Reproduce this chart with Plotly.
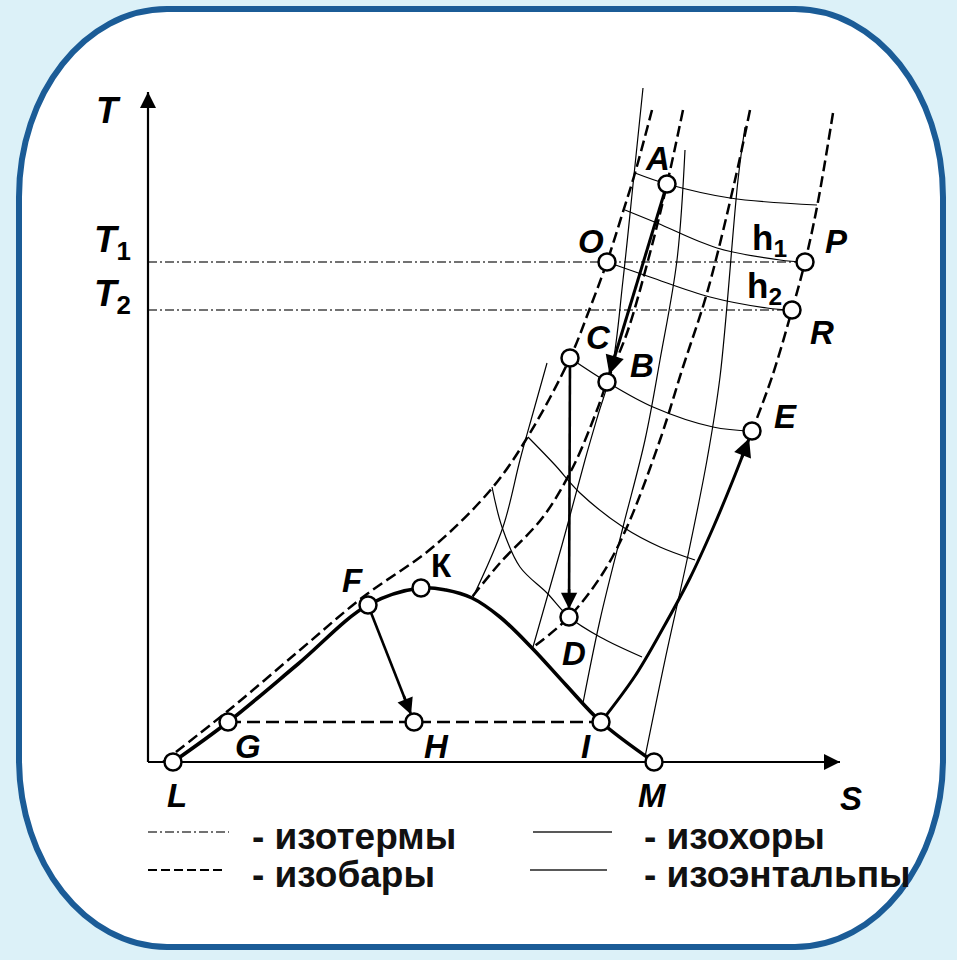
import plotly.graph_objects as go

W, H = 957, 960

# ---------------- data: T–S diagram (S and T in drawing units) ----------------
POINT_LABELS = ["A", "O", "P", "R", "C", "B", "E", "К", "F", "D", "G", "H", "I", "L", "M"]
POINT_S = [519, 459, 657, 644, 422, 459, 604, 273, 220, 421, 80, 266, 453, 25, 506]
POINT_T = [578, 500, 500, 452, 404, 380, 331, 174, 157, 145, 40, 40, 40, 0, 0]

T1 = 500
T2 = 452
S_MAX = 692
T_MAX = 670

# saturation (boundary) curve L-G-F-K-I-M
SAT_S = [25, 80, 150, 220, 273, 298, 324, 352, 384, 418, 453, 506]
SAT_T = [0, 40, 98, 157, 174, 172, 164, 145, 114, 77, 40, 0]

# isobars
ISOBAR1_S = [15, 81, 152, 215, 285, 345, 382, 422, 442, 459, 474, 487, 504]
ISOBAR1_T = [0, 52, 112, 165, 215, 275, 329, 404, 454, 500, 547, 589, 652]
ISOBAR2_S = [535, 519, 502, 479, 459, 449, 425, 395, 352, 324]
ISOBAR2_T = [652, 578, 509, 429, 380, 352, 295, 245, 199, 165]
ISOBAR3_S = [602, 587, 559, 535, 512, 479, 455, 421, 384]
ISOBAR3_T = [652, 582, 469, 395, 322, 235, 189, 145, 114]
ISOBAR4_S = [685, 669, 657, 644, 624, 604]
ISOBAR4_T = [649, 555, 500, 452, 385, 331]

# isochores
ISOCHORE_A_S = [399, 385, 372, 355, 325]
ISOCHORE_A_T = [399, 349, 302, 235, 165]
ISOCHORE_B_S = [495, 486, 475, 464, 450, 437, 414, 385]
ISOCHORE_B_T = [674, 587, 482, 394, 347, 302, 217, 115]
ISOCHORE_C_S = [537, 529, 512, 497, 475, 452, 435]
ISOCHORE_C_T = [612, 502, 402, 322, 235, 142, 59]
ISOCHORE_D_S = [597, 590, 572, 559, 539, 517, 497]
ISOCHORE_D_T = [635, 582, 385, 302, 202, 102, 5]

# isenthalps
ENTH_A_S = [487, 519, 582, 669]
ENTH_A_T = [589, 578, 564, 557]
ENTH_1_S = [477, 509, 569, 632, 657]
ENTH_1_T = [552, 539, 514, 502, 500]
ENTH_2_S = [459, 502, 562, 619, 644]
ENTH_2_T = [500, 485, 465, 454, 452]
ENTH_C_S = [422, 459, 505, 565, 604]
ENTH_C_T = [404, 380, 355, 335, 331]
ENTH_X_S = [380, 407, 432, 475, 512, 547]
ENTH_X_T = [325, 297, 269, 235, 215, 202]
ENTH_Y_S = [344, 354, 372, 399, 421, 452, 494]
ENTH_Y_T = [275, 235, 195, 169, 145, 125, 105]

# process I -> E
PROC_IE_S = [453, 487, 514, 542, 565, 585, 604]
PROC_IE_T = [40, 86, 132, 184, 234, 282, 331]

pt = {n: (s, t) for n, s, t in zip(POINT_LABELS, POINT_S, POINT_T)}

# ---------------- styling ----------------
INK = "black"
THIN = 1.2
DASH_P = "11px,5px"
DASHDOT = "9px,3px,2px,3px"
FONT = "Liberation Sans, Arial, sans-serif"
LEG_FONT = "Liberation Sans, Arial, sans-serif"

fig = go.Figure()


def curve(s, t, width, dash="solid", color=INK, shape="spline"):
    fig.add_trace(go.Scatter(
        x=s, y=t, mode="lines", hoverinfo="skip", showlegend=False,
        line=dict(color=color, width=width, dash=dash, shape=shape, smoothing=1.0),
    ))


def head(s0, t0, s1, t1, width, size, standoff=0.0, back=30.0):
    ds, dt = s1 - s0, t1 - t0
    n = (ds * ds + dt * dt) ** 0.5
    fig.add_annotation(
        x=s1, y=t1, ax=s1 - ds / n * back, ay=t1 - dt / n * back,
        xref="x", yref="y", axref="x", ayref="y", text=" ",
        font=dict(size=1), showarrow=True, arrowhead=2, arrowsize=size,
        arrowwidth=width, arrowcolor=INK, standoff=standoff,
    )


# isotherms T1, T2
curve([0, pt["P"][0]], [T1, T1], 1.3, DASHDOT, "#444", "linear")
curve([0, pt["R"][0]], [T2, T2], 1.3, DASHDOT, "#444", "linear")

# isochores
for s, t in [(ISOCHORE_A_S, ISOCHORE_A_T), (ISOCHORE_B_S, ISOCHORE_B_T),
             (ISOCHORE_C_S, ISOCHORE_C_T), (ISOCHORE_D_S, ISOCHORE_D_T)]:
    curve(s, t, THIN)

# isenthalps
for s, t in [(ENTH_A_S, ENTH_A_T), (ENTH_1_S, ENTH_1_T), (ENTH_2_S, ENTH_2_T),
             (ENTH_C_S, ENTH_C_T), (ENTH_X_S, ENTH_X_T), (ENTH_Y_S, ENTH_Y_T)]:
    curve(s, t, THIN)

# isobars
for s, t in [(ISOBAR1_S, ISOBAR1_T), (ISOBAR2_S, ISOBAR2_T),
             (ISOBAR3_S, ISOBAR3_T), (ISOBAR4_S, ISOBAR4_T)]:
    curve(s, t, 2.5, DASH_P)
curve([pt["G"][0], pt["I"][0]], [pt["G"][1], pt["I"][1]], 2.4, "13px,6px", INK, "linear")

# axes
curve([0, 0], [0, T_MAX], 2.2, shape="linear")
curve([0, S_MAX], [0, 0], 2.0, shape="linear")
head(0, 0, 0, T_MAX, 2.0, 1.6)
head(0, 0, S_MAX, 0, 2.0, 1.6)

# saturation curve
curve(SAT_S, SAT_T, 3.6)

# processes
curve(PROC_IE_S, PROC_IE_T, 3.0)
head(PROC_IE_S[-2], PROC_IE_T[-2], PROC_IE_S[-1], PROC_IE_T[-1], 3.0, 1.2, standoff=8)

for a, b, w in [("A", "B", 3.0), ("C", "D", 2.6), ("F", "H", 2.6)]:
    curve([pt[a][0], pt[b][0]], [pt[a][1], pt[b][1]], w, shape="linear")
    head(pt[a][0], pt[a][1], pt[b][0], pt[b][1], w, 1.25, standoff=8)

# state points
fig.add_trace(go.Scatter(
    x=POINT_S, y=POINT_T, mode="markers", hoverinfo="skip", showlegend=False,
    marker=dict(size=17, color="white", line=dict(color=INK, width=2.5)),
))

# point labels (pixel offsets from the point)
LABEL_SHIFT = {
    "A": (-10, 26), "O": (-16, 21), "P": (31, 21), "R": (30, -22), "C": (28, 21),
    "B": (35, 17), "E": (33, 15), "К": (20, 23), "F": (-16, 25), "D": (5, -36),
    "G": (20, -24), "H": (22, -24), "I": (-15, -24), "L": (4, -33), "M": (-2, -33),
}


def label(text, s, t, dx, dy, size=33, family=FONT):
    fig.add_annotation(
        x=s, y=t, xref="x", yref="y", text=text, showarrow=False,
        xshift=dx, yshift=dy, font=dict(family=family, size=size, color=INK),
        xanchor="center", yanchor="middle",
    )


for name in POINT_LABELS:
    s, t = pt[name]
    dx, dy = LABEL_SHIFT[name]
    txt = "<b>%s</b>" % name if name == "К" else "<b><i>%s</i></b>" % name
    label(txt, s, t, dx, dy)

label("<b>h<sub>1</sub></b>", pt["P"][0], pt["P"][1], -36, 22, 35)
label("<b>h<sub>2</sub></b>", pt["R"][0], pt["R"][1], -28, 22, 35)

label("<b><i>T</i></b>", 0, T_MAX, -40, -18, 36)
label("<b><i>T</i><sub>1</sub></b>", 0, T1, -36, 20, 37)
label("<b><i>T</i><sub>2</sub></b>", 0, T2, -36, 14, 37)
label("<b><i>S</i></b>", S_MAX, 0, 11, -36, 33)

# legend
LEGEND_ROWS = [-74, -112]
LEGEND = [
    (0, 81, LEGEND_ROWS[0], 1.4, DASHDOT, "#444", 102, "- изотермы"),
    (0, 76, LEGEND_ROWS[1], 2.0, "9px,4px", INK, 102, "- изобары"),
    (385, 464, LEGEND_ROWS[0], 1.3, "solid", "#222", 494, "- изохоры"),
    (382, 459, LEGEND_ROWS[1], 1.3, "solid", "#222", 494, "- изоэнтальпы"),
]
for s0, s1, ty, w, dash, col, tx, text in LEGEND:
    curve([s0, s1], [ty + 4, ty + 4], w, dash, col, "linear")
    fig.add_annotation(
        x=tx, y=ty, xref="x", yref="y", text="<b>%s</b>" % text, showarrow=False,
        xanchor="left", yanchor="middle", font=dict(family=LEG_FONT, size=37, color="#111"),
    )


# rounded frame
def frame_path(l, t, r, b, rx, ry, k=0.552):
    X = lambda px: "%.5f" % (px / W)
    Y = lambda py: "%.5f" % (1 - py / H)
    p = [
        "M", X(l + rx), Y(t), "L", X(r - rx), Y(t),
        "C", X(r - rx + k * rx), Y(t), X(r), Y(t + ry - k * ry), X(r), Y(t + ry),
        "L", X(r), Y(b - ry),
        "C", X(r), Y(b - ry + k * ry), X(r - rx + k * rx), Y(b), X(r - rx), Y(b),
        "L", X(l + rx), Y(b),
        "C", X(l + rx - k * rx), Y(b), X(l), Y(b - ry + k * ry), X(l), Y(b - ry),
        "L", X(l), Y(t + ry),
        "C", X(l), Y(t + ry - k * ry), X(l + rx - k * rx), Y(t), X(l + rx), Y(t),
        "Z",
    ]
    return " ".join(p)


fig.add_shape(
    type="path", xref="paper", yref="paper", layer="below",
    path=frame_path(19, 9, 943, 947, 148, 188),
    fillcolor="white", line=dict(color="#1B5C97", width=6),
)

fig.update_layout(
    width=W, height=H, autosize=False,
    margin=dict(l=0, r=0, t=0, b=0),
    paper_bgcolor="#DCF1F8", plot_bgcolor="rgba(0,0,0,0)",
    xaxis=dict(range=[-148, W - 148], visible=False, fixedrange=True),
    yaxis=dict(range=[762 - H, 762], visible=False, fixedrange=True),
    showlegend=False,
)

fig.write_html("out.html")
